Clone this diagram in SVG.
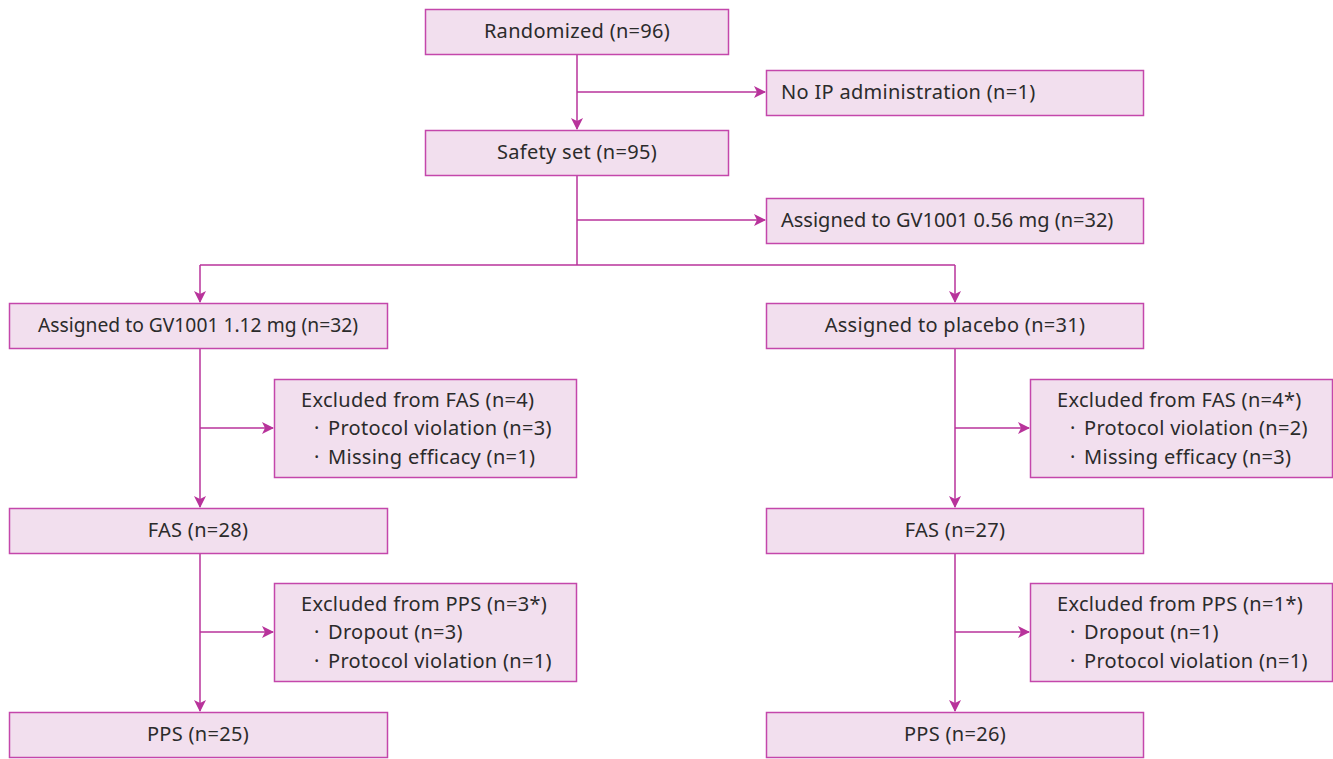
<svg xmlns="http://www.w3.org/2000/svg" width="1333" height="759" viewBox="0 0 1333 759">
<style>
.box{fill:#f2dfee;stroke:#c447ab;stroke-width:1.5}
.ln{fill:none;stroke:#b8339b;stroke-width:1.5}
text{font-family:"Noto Sans","Liberation Sans",sans-serif;font-size:20px;fill:#2b2b2b}
.c{text-anchor:middle}
.w{letter-spacing:0.3px}
</style>
<defs>
<marker id="ah" markerWidth="12" markerHeight="12" refX="11" refY="6" orient="auto" markerUnits="userSpaceOnUse">
<path d="M0,0 L12,6 L0,12 L3,6 Z" fill="#b8339b"/>
</marker>
</defs>
<rect width="1333" height="759" fill="#fff"/>
<g id="connectors">
<path class="ln" d="M577,54 V129" marker-end="url(#ah)"/>
<path class="ln" d="M577,92 H765" marker-end="url(#ah)"/>
<path class="ln" d="M577,175 V265"/>
<path class="ln" d="M577,220 H765" marker-end="url(#ah)"/>
<path class="ln" d="M200,265 H955"/>
<path class="ln" d="M200,265 V302" marker-end="url(#ah)"/>
<path class="ln" d="M955,265 V302" marker-end="url(#ah)"/>
<path class="ln" d="M200,349 V507" marker-end="url(#ah)"/>
<path class="ln" d="M200,428 H273" marker-end="url(#ah)"/>
<path class="ln" d="M955,349 V507" marker-end="url(#ah)"/>
<path class="ln" d="M955,428 H1029" marker-end="url(#ah)"/>
<path class="ln" d="M200,553 V711" marker-end="url(#ah)"/>
<path class="ln" d="M200,632 H273" marker-end="url(#ah)"/>
<path class="ln" d="M955,553 V711" marker-end="url(#ah)"/>
<path class="ln" d="M955,632 H1029" marker-end="url(#ah)"/>
</g>
<g id="randomized"><rect class="box" x="425.5" y="9.5" width="303" height="45"/><text class="c w" x="577" y="38">Randomized (n=96)</text></g>
<g id="no-ip"><rect class="box" x="766.5" y="70.5" width="377" height="45"/><text class="w" x="781" y="99">No IP administration (n=1)</text></g>
<g id="safety"><rect class="box" x="425.5" y="130.5" width="303" height="45"/><text class="c w" x="577" y="159">Safety set (n=95)</text></g>
<g id="gv056"><rect class="box" x="766.5" y="198.5" width="377" height="45"/><text x="781" y="227">Assigned to GV1001 0.56 mg (n=32)</text></g>
<g id="gv112"><rect class="box" x="9.5" y="303.5" width="378" height="45"/><text x="38" y="332" textLength="320" lengthAdjust="spacingAndGlyphs">Assigned to GV1001 1.12 mg (n=32)</text></g>
<g id="placebo"><rect class="box" x="766.5" y="303.5" width="377" height="45"/><text class="c w" x="955" y="332">Assigned to placebo (n=31)</text></g>
<g id="excl-fas-l"><rect class="box" x="274.5" y="379.5" width="302" height="98"/>
<text class="w" x="301" y="407">Excluded from FAS (n=4)</text>
<text x="314" y="435">·<tspan class="w" x="328">Protocol violation (n=3)</tspan></text>
<text x="314" y="464">·<tspan class="w" x="328">Missing efficacy (n=1)</tspan></text></g>
<g id="excl-fas-r"><rect class="box" x="1030.5" y="379.5" width="302" height="98"/>
<text class="w" x="1057" y="407">Excluded from FAS (n=4*)</text>
<text x="1070" y="435">·<tspan class="w" x="1084">Protocol violation (n=2)</tspan></text>
<text x="1070" y="464">·<tspan class="w" x="1084">Missing efficacy (n=3)</tspan></text></g>
<g id="fas-l"><rect class="box" x="9.5" y="508.5" width="378" height="45"/><text class="c w" x="198" y="537">FAS (n=28)</text></g>
<g id="fas-r"><rect class="box" x="766.5" y="508.5" width="377" height="45"/><text class="c w" x="955" y="537">FAS (n=27)</text></g>
<g id="excl-pps-l"><rect class="box" x="274.5" y="583.5" width="302" height="98"/>
<text class="w" x="301" y="611">Excluded from PPS (n=3*)</text>
<text x="314" y="639">·<tspan class="w" x="328">Dropout (n=3)</tspan></text>
<text x="314" y="668">·<tspan class="w" x="328">Protocol violation (n=1)</tspan></text></g>
<g id="excl-pps-r"><rect class="box" x="1030.5" y="583.5" width="302" height="98"/>
<text class="w" x="1057" y="611">Excluded from PPS (n=1*)</text>
<text x="1070" y="639">·<tspan class="w" x="1084">Dropout (n=1)</tspan></text>
<text x="1070" y="668">·<tspan class="w" x="1084">Protocol violation (n=1)</tspan></text></g>
<g id="pps-l"><rect class="box" x="9.5" y="712.5" width="378" height="45"/><text class="c w" x="198" y="741">PPS (n=25)</text></g>
<g id="pps-r"><rect class="box" x="766.5" y="712.5" width="377" height="45"/><text class="c w" x="955" y="741">PPS (n=26)</text></g>
</svg>
